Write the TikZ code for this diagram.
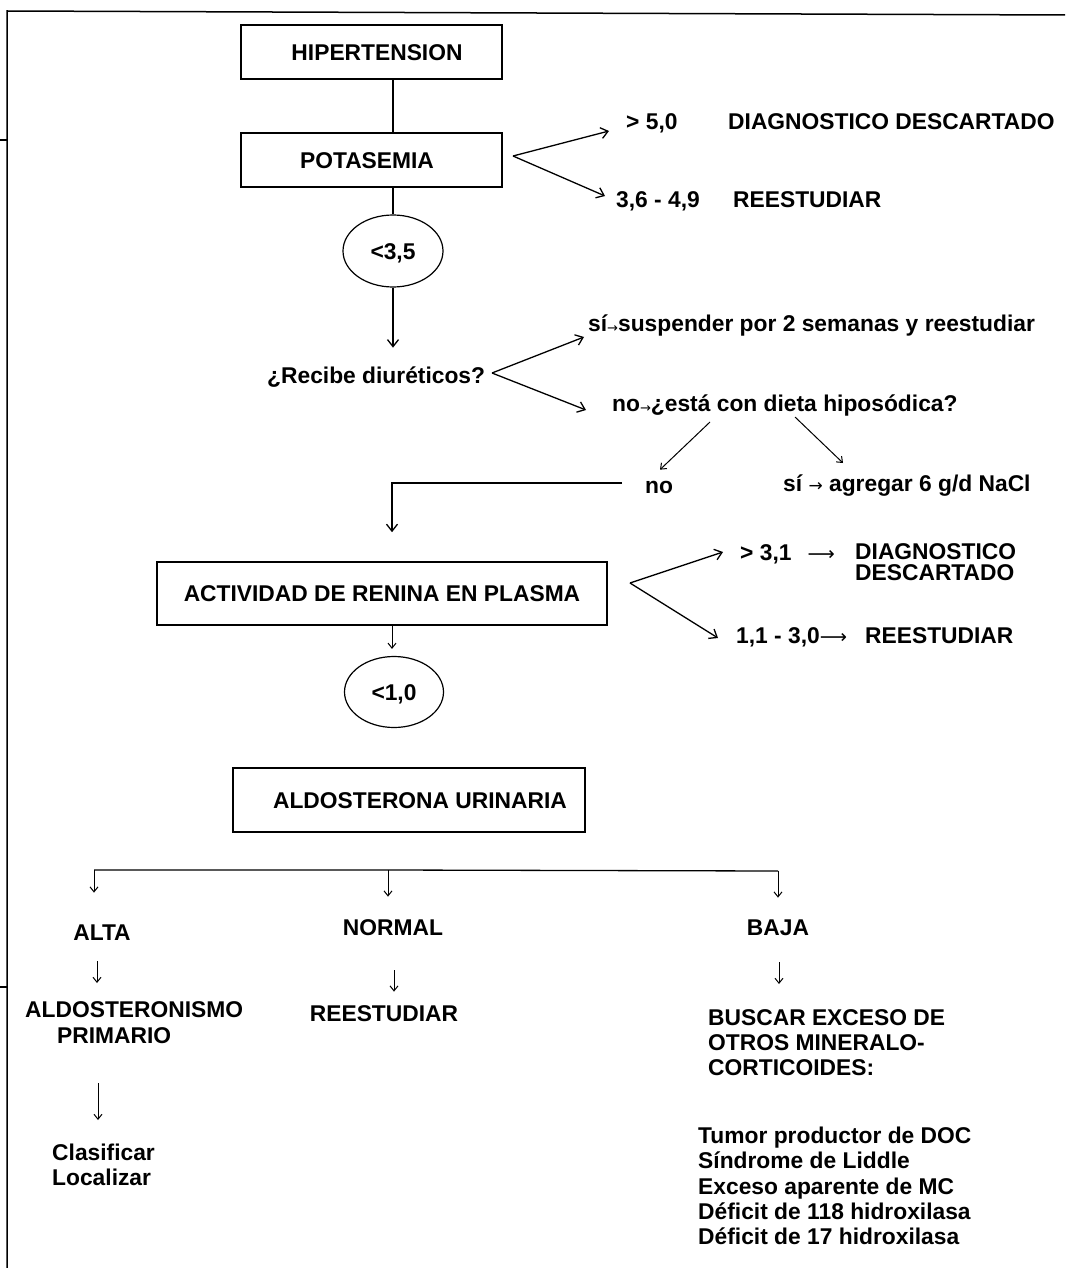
\documentclass[tikz,border=0pt]{standalone}
\usepackage{fontspec}
\usepackage{graphicx}
\setmainfont{Liberation Sans}
\newfontfamily\dejavu{DejaVu Sans}
\usetikzlibrary{arrows.meta,shapes.geometric,calc}
\newcommand\smarr{\raisebox{-1.5pt}{\dejavu\mdseries\fontsize{13}{13}\selectfont →}}
\newcommand\midarr{{\dejavu\mdseries\fontsize{17}{17}\selectfont →}}
\newcommand\longarr{{\dejavu\mdseries\fontsize{19}{19}\selectfont ⟶}}
\begin{document}
\begin{tikzpicture}[x=1pt,y=-1pt,
  every node/.style={font=\fontsize{22.8}{26}\selectfont\bfseries},
  lbl/.style={inner sep=0pt,text height=16.3pt,text depth=0pt},
  box/.style={lbl,draw,line width=1.6pt,rectangle},
  oval/.style={lbl,draw,line width=1.2pt,ellipse},
  multi/.style={inner sep=0pt,align=left,anchor=north west},
  conn/.style={line width=1.3pt},
  arr/.style={conn,-{Straight Barb[length=7pt,width=11pt]}},
  sarr/.style={line width=1pt,-{Straight Barb[length=5pt,width=8pt]}},
  frame/.style={line width=1.5pt}
]
\useasboundingbox (0,0) rectangle (1065,1268);
% page frame
\draw[frame] (7,1268) -- (7,11) -- (1065,15);
\draw[frame] (0,140) -- (7,140);
\draw[frame] (0,987) -- (7,987);

% top part
\node[box,minimum width=261pt,minimum height=54pt] (hip) at (371.5,52) {\hspace*{11pt}HIPERTENSION};
\node[box,minimum width=261pt,minimum height=54pt] (pot) at (371.5,160) {POTASEMIA\hspace*{9pt}};
\node[oval,minimum width=100pt,minimum height=72pt] (e1) at (393,251) {<3,5};
\draw[conn] ($(hip.south)+(21.5,0)$) -- ($(pot.north)+(21.5,0)$);
\draw[conn] ($(pot.south)+(21.5,0)$) -- (e1.north);

\node[lbl,anchor=west] (g1) at (626,121) {> 5,0};
\node[lbl,anchor=west] (g1b) at (728,121) {DIAGNOSTICO DESCARTADO};
\node[lbl,anchor=west] (g2) at (616,199) {3,6 - 4,9};
\node[lbl,anchor=west] (g2b) at (733,199) {REESTUDIAR};
\coordinate (v1) at (513,156);
\draw[arr] (v1) -- ($(g1.west)+(-17,10)$);
\draw[arr] (v1) -- ($(g2.west)+(-11,-3)$);

% diuretics
\node[lbl,anchor=west] (diur) at (267,375) {¿Recibe diuréticos?};
\draw[arr] (e1.south) -- ($(e1.south |- diur.north)+(0,-19)$);
\coordinate (v2) at (492,373);
\node[lbl,anchor=west] (si1) at (588,323) {sí\smarr suspender por 2 semanas y reestudiar};
\node[lbl,anchor=west] (no1) at (612,403) {no\smarr¿está con dieta hiposódica?};
\draw[arr] (v2) -- ($(si1.west)+(-4,14)$);
\draw[arr] (v2) -- ($(no1.west)+(-26,7)$);

\node[lbl,anchor=west] (no2) at (645,485) {no};
\node[lbl,anchor=west] (si2) at (783,483) {sí \midarr{} agregar 6 g/d NaCl};
\draw[sarr] ($(no1.west)+(98,19)$) -- ($(no2.north west)+(15,-7)$);
\draw[sarr] ($(no1.west)+(183,14)$) -- ($(si2.west)+(60,-20)$);

% renin
\node[box,minimum width=450pt,minimum height=63pt] (act) at (382,593.5) {ACTIVIDAD DE RENINA EN PLASMA};
\draw[arr] ($(no2.west)+(-23,-2)$) -| ($(act.north)+(10,-29)$);
\node[oval,minimum width=99pt,minimum height=71pt] (e2) at (394,692) {<1,0};
\draw[sarr] ($(act.south)+(10,0)$) -- ($(e2.north)+(-2,-7)$);

\coordinate (v3) at (630,583);
\node[lbl,anchor=west] (g3) at (740,552) {> 3,1\hspace*{16pt}\longarr};
\node[multi,font=\fontsize{22.8}{21}\selectfont\bfseries] (d3) at (855,543) {DIAGNOSTICO\\DESCARTADO};
\node[lbl,anchor=west] (r3) at (736,635) {1,1 - 3,0\longarr};
\node[lbl,anchor=west] (r3b) at (865,635) {REESTUDIAR};
\draw[arr] (v3) -- ($(g3.west)+(-17,0)$);
\draw[arr] (v3) -- ($(r3.west)+(-18,3)$);

% aldosterone
\node[box,minimum width=352pt,minimum height=64pt] (ald) at (409,800) {\hspace*{22pt}ALDOSTERONA URINARIA};

\coordinate (bl) at (94,870);
\coordinate (bm) at (388,870);
\coordinate (br) at (778,871);
\draw[conn] (bl) -- (bm) -- (br);

\node[lbl] (alta) at (102,932) {ALTA};
\node[lbl] (normal) at (393,927) {NORMAL};
\node[lbl] (baja) at (778,927) {BAJA};
\draw[sarr] (bl) -- ($(alta.north -| bl)+(0,-31)$);
\draw[sarr] (bm) -- ($(normal.north -| bm)+(0,-22)$);
\draw[sarr] (br) -- ($(baja.north)+(0,-21)$);

\node[multi,font=\fontsize{22.8}{26}\selectfont\bfseries] (aldo) at (25,1001) {ALDOSTERONISMO\\\hspace*{32pt}PRIMARIO};
\node[multi,font=\fontsize{22.8}{25}\selectfont\bfseries] (clas) at (52,1144) {Clasificar\\Localizar};
\draw[sarr] ($(alta.south)+(-5,21)$) -- ($(aldo.north west)+(72,-18)$);
\draw[sarr] ($(aldo.north west)+(73,82)$) -- ($(clas.north west)+(46,-24)$);

\node[lbl] (reest2) at (384,1013) {REESTUDIAR};
\draw[sarr] ($(normal.south)+(1,35)$) -- ($(reest2.north)+(10,-13)$);

\node[multi,font=\fontsize{22.8}{25}\selectfont\bfseries] (buscar) at (708,1009) {BUSCAR EXCESO DE\\OTROS MINERALO-\\CORTICOIDES:};
\draw[sarr] ($(baja.south)+(1,27)$) -- ($(buscar.north west)+(71,-25)$);

\node[multi,font=\fontsize{22.8}{25.25}\selectfont\bfseries] (list) at (698,1127) {Tumor productor de DOC\\Síndrome de Liddle\\Exceso aparente de MC\\Déficit de 118 hidroxilasa\\Déficit de 17 hidroxilasa};
\end{tikzpicture}
\end{document}
